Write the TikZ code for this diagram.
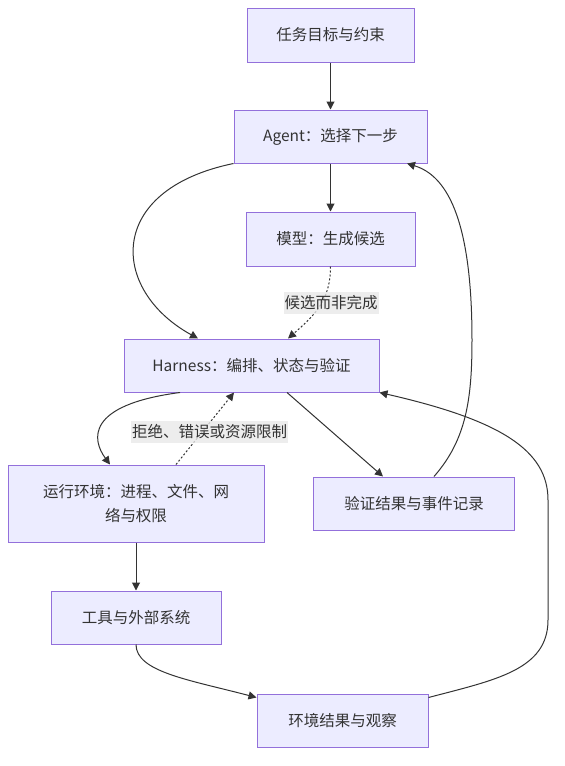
\documentclass[tikz,border=0pt]{standalone}
\usepackage{fontspec}
\setmainfont{Noto Sans CJK SC}
\usepackage{tikz}
\usetikzlibrary{arrows.meta}
\definecolor{boxfill}{HTML}{ECECFF}
\definecolor{boxline}{HTML}{9370DB}
\definecolor{ink}{HTML}{333333}
\definecolor{lblfill}{HTML}{E8E8E8}
\tikzset{
  box/.style={draw=boxline, fill=boxfill, line width=1pt, inner sep=0pt, text=ink,
    align=center, font=\fontsize{15.5}{24}\selectfont},
  edge/.style={draw=ink, line width=1pt, -{Triangle[length=8pt,width=8pt]}},
  dashededge/.style={edge, dash pattern=on 2pt off 2pt},
  lbl/.style={fill=lblfill, fill opacity=0.8, text opacity=1, text=ink, inner xsep=1pt,
    inner ysep=0pt, minimum height=22pt, font=\fontsize{15.5}{20}\selectfont}
}
\begin{document}
\begin{tikzpicture}[x=1pt,y=-1pt]
		\useasboundingbox (0,0) rectangle (565,766);
		\node[box, minimum width=167pt, minimum height=54pt] (task) at (330.5,35) {任务目标与约束};
		\node[box, minimum width=193pt, minimum height=53pt] (agent) at (330.5,136.5) {Agent：选择下一步};
		\node[box, minimum width=169pt, minimum height=54pt] (model) at (330.5,239) {模型：生成候选};
		\node[box, minimum width=255pt, minimum height=53pt] (harness) at (251.5,365.5) {Harness：编排、状态与验证};
		\node[box, minimum width=256pt, minimum height=77pt] (runtime) at (136,503.5) {运行环境：进程、文件、网\\络与权限};
		\node[box, minimum width=201pt, minimum height=53pt] (verify) at (414,503.5) {验证结果与事件记录};
		\node[box, minimum width=170pt, minimum height=53pt] (tools) at (136,617.5) {工具与外部系统};
		\node[box, minimum width=171pt, minimum height=53pt] (envres) at (342.5,720.5) {环境结果与观察};

		\draw[edge] (task.south) -- (agent.north);
		\draw[edge] (agent.south) -- (model.north);
		\draw[edge] (agent.south west) .. controls (105,190) and (110,290) .. ([xshift=-53.5pt]harness.north);
		\draw[dashededge] (model.south) .. controls (330.5,300) and (315,315) .. ([xshift=36.5pt]harness.north);
		\node[lbl] (candlbl) at (331,303) {候选而非完成};
		\draw[edge] ([xshift=-71.5pt]harness.south) .. controls (85,405) and (92,440) .. ([xshift=-26pt]runtime.north);
		\draw[dashededge] ([xshift=40pt]runtime.north) -- ([xshift=-17.5pt]harness.south);
		\node[lbl] (rejlbl) at (209.5,432) {拒绝、错误或资源限制};
		\draw[edge] ([xshift=35.5pt]harness.south) -- ([xshift=-31pt]verify.north);
		\draw[edge] ([xshift=20pt]verify.north) .. controls (466,440) and (472,400) .. (472,340)
			.. controls (472,215) and (445,175) .. ([xshift=76.5pt]agent.south);
		\draw[edge] (runtime.south) -- (tools.north);
		\draw[edge] (tools.south) .. controls (136,672) and (190,680) .. ([yshift=-4pt]envres.north west);
		\draw[edge] ([yshift=-4pt]envres.north east) .. controls (495,680) and (548,670) .. (548,620)
			-- (548,500) .. controls (548,450) and (500,420) .. (harness.south east);
		\end{tikzpicture}
\end{document}
